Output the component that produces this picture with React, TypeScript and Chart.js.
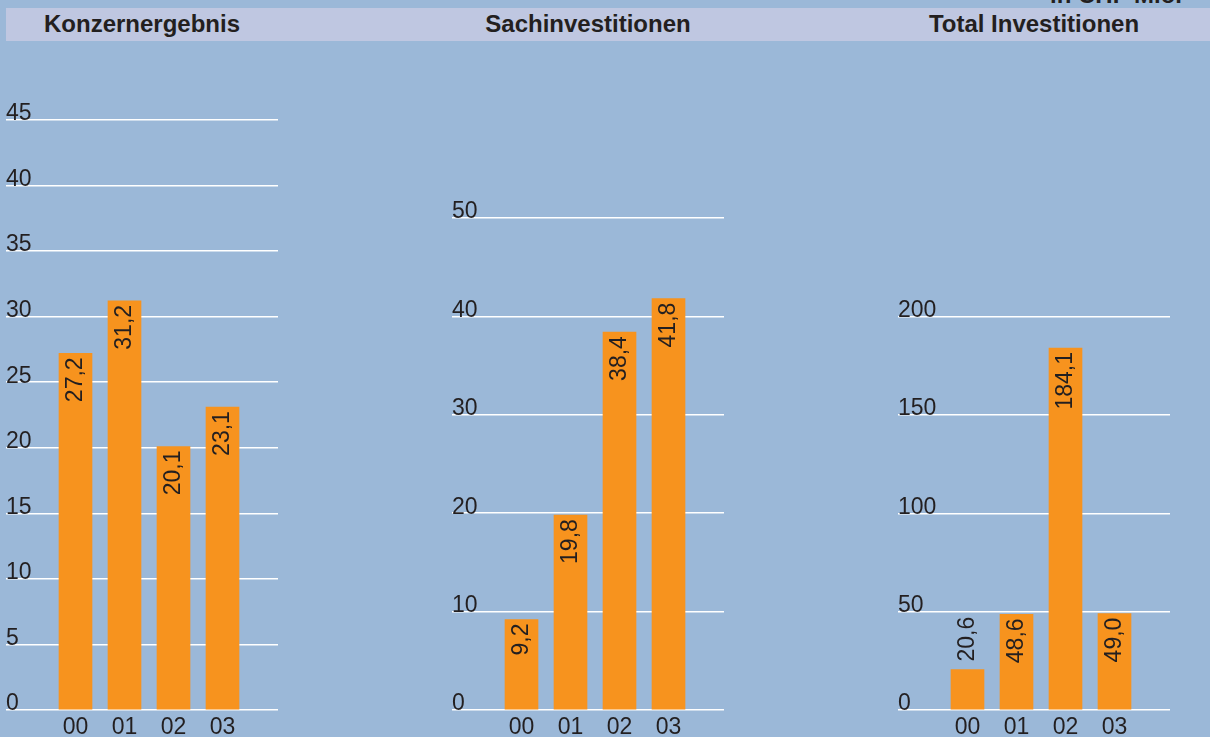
import React, { useEffect, useRef } from 'react';
import { Chart, registerables } from 'chart.js';

Chart.register(...registerables);

// ---------- data ----------
const years = ['00', '01', '02', '03'];
const titles = ['Konzernergebnis', 'Sachinvestitionen', 'Total Investitionen'];
const unitLabel = 'in CHF Mio.';
const konzernergebnis = [27.2, 31.2, 20.1, 23.1];
const sachinvestitionen = [9.2, 19.8, 38.4, 41.8];
const totalInvestitionen = [20.6, 48.6, 184.1, 49.0];
const konzernTicks = [0, 5, 10, 15, 20, 25, 30, 35, 40, 45];
const sachTicks = [0, 10, 20, 30, 40, 50];
const totalTicks = [0, 50, 100, 150, 200];

// ---------- style ----------
const BG = '#9bb8d8';
const BAND = '#bfc7e1';
const ORANGE = '#f7931e';
const TEXT = '#231f20';
const FONT = "'Liberation Sans', Arial, Helvetica, sans-serif";
const GRID_W = 272;
const CANVAS_W = 290;
const H = 737;
const ZERO_Y = 710;
const STEP_PX = 49;
const FIRST_OFF = 69.5;
const XMIN = -FIRST_OFF / STEP_PX;
const XMAX = XMIN + GRID_W / STEP_PX;

const valueLabelPlugin = {
  id: 'valueLabels',
  afterDatasetsDraw(chart: any) {
    const ctx = chart.ctx;
    const meta = chart.getDatasetMeta(0);
    const data = chart.data.datasets[0].data;
    ctx.save();
    ctx.font = `23px ${FONT}`;
    ctx.fillStyle = TEXT;
    ctx.textBaseline = 'middle';
    meta.data.forEach((bar: any, i: number) => {
      const v = data[i].y as number;
      const text = v.toFixed(1).replace('.', ',');
      const w = ctx.measureText(text).width;
      const { x, y, base } = bar.getProps(['x', 'y', 'base'], true);
      ctx.save();
      if (base - y >= w + 8) {
        ctx.translate(x, y + 4);
        ctx.rotate(-Math.PI / 2);
        ctx.textAlign = 'right';
      } else {
        ctx.translate(x, y - 8);
        ctx.rotate(-Math.PI / 2);
        ctx.textAlign = 'left';
      }
      ctx.fillText(text, 0, 0);
      ctx.restore();
    });
    ctx.restore();
  },
};

function Panel({ gridLeft, top, values, ticks }: { gridLeft: number; top: number; values: number[]; ticks: number[] }) {
  const ref = useRef<HTMLCanvasElement>(null);
  useEffect(() => {
    if (!ref.current) return;
    const font = { family: FONT, size: 23 };
    const chart = new Chart(ref.current, {
      type: 'bar',
      data: {
        datasets: [
          {
            data: values.map((v, i) => ({ x: i, y: v })),
            backgroundColor: ORANGE,
            borderWidth: 0,
            barThickness: 33,
          },
        ],
      },
      options: {
        animation: false,
        responsive: false,
        devicePixelRatio: 1,
        layout: { padding: { left: 6, right: CANVAS_W - 6 - GRID_W, top, bottom: 0 } },
        plugins: { legend: { display: false }, tooltip: { enabled: false }, title: { display: false } },
        scales: {
          x: {
            type: 'linear',
            offset: false,
            min: XMIN,
            max: XMAX,
            grid: { display: false, drawTicks: false, offset: false },
            border: { display: false },
            afterBuildTicks: (s: any) => {
              s.ticks = years.map((_, i) => ({ value: i }));
            },
            afterFit: (s: any) => {
              s.height = H - ZERO_Y;
            },
            ticks: {
              callback: (v: any) => years[v as number],
              font,
              color: TEXT,
              padding: 4,
              maxRotation: 0,
              autoSkip: false,
            },
          },
          y: {
            min: 0,
            max: ticks[ticks.length - 1],
            afterBuildTicks: (s: any) => {
              s.ticks = ticks.map((v) => ({ value: v }));
            },
            grid: { color: '#ffffff', lineWidth: 1.5, drawTicks: false },
            border: { display: false },
            ticks: {
              mirror: true,
              padding: 0,
              labelOffset: -6,
              font,
              color: TEXT,
              callback: (v: any) => String(v),
            },
          },
        },
      } as any,
      plugins: [valueLabelPlugin],
    });
    return () => chart.destroy();
  }, []);
  return (
    <canvas
      ref={ref}
      width={CANVAS_W}
      height={H}
      style={{ position: 'absolute', left: gridLeft - 6, top: 0, width: CANVAS_W, height: H }}
    />
  );
}

const panels = [
  { gridLeft: 6, top: 120, values: konzernergebnis, ticks: konzernTicks },
  { gridLeft: 452, top: 218, values: sachinvestitionen, ticks: sachTicks },
  { gridLeft: 898, top: 316.7, values: totalInvestitionen, ticks: totalTicks },
];

export default function App() {
  return (
    <div
      style={{
        position: 'fixed',
        left: 0,
        top: 0,
        width: 1210,
        height: H,
        background: BG,
        overflow: 'hidden',
        fontFamily: FONT,
        color: TEXT,
      }}
    >
      <div
        style={{
          position: 'absolute',
          right: 28,
          top: -17,
          fontSize: 24,
          lineHeight: '24px',
          fontWeight: 'bold',
          whiteSpace: 'nowrap',
        }}
      >
        {unitLabel}
      </div>
      <div style={{ position: 'absolute', left: 6, top: 8, width: 1204, height: 33, background: BAND }} />
      {panels.map((p, i) => (
        <div
          key={'t' + i}
          style={{
            position: 'absolute',
            left: p.gridLeft,
            top: 12,
            width: GRID_W,
            textAlign: 'center',
            fontSize: 24,
            lineHeight: '24px',
            fontWeight: 'bold',
            whiteSpace: 'nowrap',
          }}
        >
          {titles[i]}
        </div>
      ))}
      {panels.map((p, i) => (
        <Panel key={i} gridLeft={p.gridLeft} top={p.top} values={p.values} ticks={p.ticks} />
      ))}
    </div>
  );
}
